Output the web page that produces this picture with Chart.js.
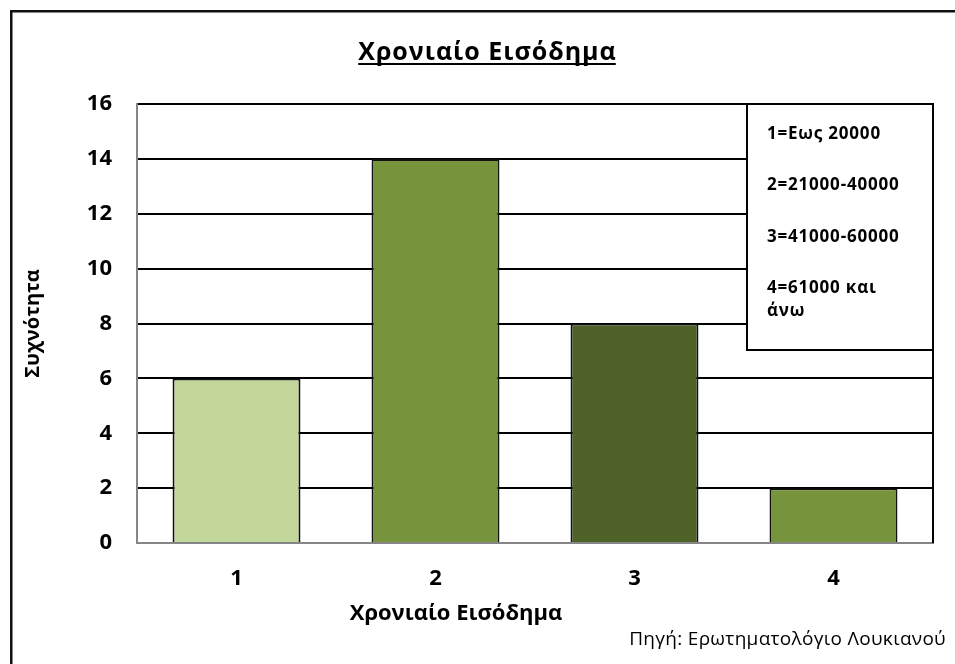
<!DOCTYPE html>
<html>
<head>
<meta charset="utf-8">
<script src="https://cdn.jsdelivr.net/npm/chart.js@4/dist/chart.umd.min.js"></script>
<style>
  html, body { margin: 0; padding: 0; background: #ffffff; }
  canvas { display: block; }
</style>
</head>
<body>
<canvas id="incomeChart" width="955" height="664"></canvas>
<script>
// Income bands and how many respondents fall in each
const categories = ['1', '2', '3', '4'];
const frequencies = [6, 14, 8, 2];
const barColors = ['#c4d79b', '#77933c', '#4f6228', '#77933c'];

// Text content
const chartTitle = 'Χρονιαίο Εισόδημα';
const xAxisTitle = 'Χρονιαίο Εισόδημα';
const yAxisTitle = 'Συχνότητα';
const bandKey = [['1=Εως 20000'], ['2=21000-40000'], ['3=41000-60000'], ['4=61000 και', 'άνω']];
const sourceNote = 'Πηγή: Ερωτηματολόγιο Λουκιανού';

const FONT = '"Open Sans", "Noto Sans", "DejaVu Sans", sans-serif';

// Extra drawing: white page, outer frame, underlined heading, plot border,
// x-axis caption, key box and source line
const decorations = {
  id: 'decorations',
  beforeDraw(chart) {
    const ctx = chart.ctx;
    ctx.save();
    ctx.fillStyle = '#ffffff';
    ctx.fillRect(0, 0, chart.width, chart.height);
    ctx.restore();
  },
  afterDraw(chart) {
    const ctx = chart.ctx;
    const area = chart.chartArea;
    ctx.save();

    // outer frame
    ctx.strokeStyle = '#111111';
    ctx.lineWidth = 2.5;
    ctx.strokeRect(11.25, 11.25, chart.width + 20, chart.height + 20);

    // heading with underline
    ctx.fillStyle = '#000000';
    ctx.font = 'bold 25px ' + FONT;
    ctx.letterSpacing = '1px';
    ctx.textAlign = 'left';
    ctx.textBaseline = 'middle';
    const tw = ctx.measureText(chartTitle).width - 1;
    const tx = 487 - tw / 2;
    ctx.fillText(chartTitle, tx, 53);
    ctx.letterSpacing = '0px';
    ctx.strokeStyle = '#000000';
    ctx.lineWidth = 2;
    ctx.beginPath();
    ctx.moveTo(tx, 64);
    ctx.lineTo(tx + tw, 64);
    ctx.stroke();

    // right edge of the plot area
    ctx.beginPath();
    ctx.moveTo(area.right, area.top);
    ctx.lineTo(area.right, area.bottom);
    ctx.stroke();

    // x-axis caption
    ctx.font = 'bold 22px ' + FONT;
    ctx.textAlign = 'center';
    ctx.fillText(xAxisTitle, 456, 614);

    // key box for the income bands
    const bx = area.right - 186, by = area.top, bw = 186, bh = 246;
    ctx.fillStyle = '#ffffff';
    ctx.fillRect(bx, by, bw, bh);
    ctx.strokeRect(bx, by, bw, bh);

    ctx.fillStyle = '#000000';
    ctx.font = 'bold 17px ' + FONT;
    ctx.letterSpacing = '0.8px';
    ctx.textAlign = 'left';
    let y = by + 30;
    bandKey.forEach(lines => {
      lines.forEach((line, i) => {
        ctx.fillText(line, bx + 20, y + i * 23);
      });
      y += 51.5 + (lines.length > 1 ? 23 : 0);
    });

    // source line
    ctx.font = '19px ' + FONT;
    ctx.letterSpacing = '0.3px';
    ctx.textAlign = 'right';
    ctx.fillText(sourceNote, 946, 640);
    ctx.letterSpacing = '0px';

    ctx.restore();
  }
};

new Chart(document.getElementById('incomeChart'), {
  type: 'bar',
  data: {
    labels: categories,
    datasets: [{
      data: frequencies,
      backgroundColor: barColors,
      borderColor: '#111111',
      borderWidth: 2,
      barPercentage: 0.643,
      categoryPercentage: 1.0
    }]
  },
  options: {
    responsive: false,
    devicePixelRatio: 1,
    animation: false,
    layout: { padding: { left: 20, right: 22, top: 104, bottom: 0 } },
    plugins: {
      legend: { display: false },
      tooltip: { enabled: false },
      title: { display: false }
    },
    scales: {
      x: {
        afterFit(scale) { scale.height = 121; },
        grid: { display: false, drawTicks: false },
        border: { display: true, color: '#868686', width: 2 },
        ticks: {
          color: '#000000',
          padding: 23,
          font: { family: FONT, size: 22, weight: 'bold' }
        }
      },
      y: {
        min: 0,
        max: 16,
        afterFit(scale) { scale.width = 117; },
        grid: {
          drawTicks: false,
          color: ctx => (ctx.tick && ctx.tick.value === 0 ? 'rgba(0,0,0,0)' : '#000000'),
          lineWidth: 2
        },
        border: { display: true, color: '#868686', width: 2 },
        ticks: {
          stepSize: 2,
          color: '#000000',
          padding: 25,
          font: { family: FONT, size: 22, weight: 'bold' }
        },
        title: {
          display: true,
          text: yAxisTitle,
          color: '#000000',
          font: { family: FONT, size: 20, weight: 'bold', lineHeight: 1.2 },
          padding: { top: 1, bottom: 0 }
        }
      }
    }
  },
  plugins: [decorations]
});
</script>
</body>
</html>
